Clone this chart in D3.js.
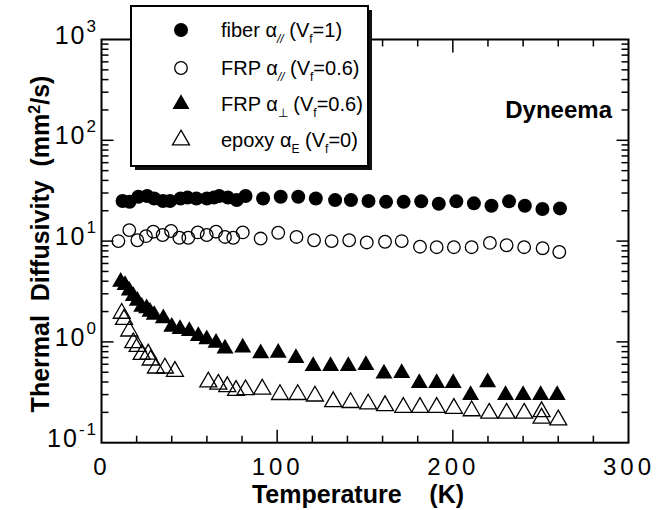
<!DOCTYPE html>
<html><head><meta charset="utf-8">
<script src="https://cdn.jsdelivr.net/npm/d3@7"></script>
<style>
body{margin:0;background:#fff}
svg{display:block}
text{font-family:"Liberation Sans",Arial,Helvetica,sans-serif;fill:#000}
</style>
</head><body>
<svg id="c" width="667" height="510"></svg>
<script>
// ---------- data ----------
const fiberT = [12,16,21,26,30,35,39,45,49,54,60,64,67,72,77,82,92,102,112,122,133,142,152,162,172,182,192,202,212,222,232,241,251,261];
const fiberV = [25,24.5,27.5,28,26.5,25,25,26.5,27,26.5,26.5,27,28,27,25.5,28,26.5,27.5,27.5,26.5,25.5,25.5,25,24.5,24.5,24.8,23.5,24.8,23.7,22.4,24.8,22.4,20.8,21.1];

const frpParT = [9.6,15.8,20.4,25.3,29.5,34.8,39.6,44.3,49.4,54.8,59.9,65.2,70.3,75,80.4,90.6,100.6,111,121,131,141,151,161.4,170.9,181.3,190.8,200.6,210.7,221.1,230.6,240.6,251.1,260.6];
const frpParV = [10.0,12.85,10.2,11.2,12.4,11.5,12.6,10.8,10.8,12.2,11.5,12.4,11.0,10.8,12.2,10.6,12.1,11.0,10.2,10.0,10.2,9.7,9.85,10.0,8.8,8.7,8.7,8.7,9.6,9.1,8.7,8.5,7.8];

const frpPerpT = [10.9,13.4,15.8,18.1,20.4,22.9,25.7,27.6,30,35.2,40,44.7,50,55.1,59.9,65.2,70.3,80.4,90.6,100.6,110.7,120.5,130.4,140.5,150.5,160.8,170.9,180.9,190.8,200.2,210.1,219.8,230,240,250,259.4];
const frpPerpV = [3.95,3.66,3.22,2.85,2.56,2.23,2.15,1.99,1.85,1.71,1.41,1.34,1.28,1.14,1.06,0.98,0.86,0.88,0.77,0.78,0.69,0.575,0.575,0.575,0.59,0.485,0.49,0.39,0.39,0.39,0.297,0.397,0.297,0.297,0.297,0.297];

const epoxyT = [11.5,12.8,15.8,18.1,20.6,22.9,26.6,28,31,36.1,41.8,60.8,66.5,71.6,76.6,82,91.5,101.6,111.7,121.5,131.9,141.8,151.8,161.4,171.8,181.3,190.8,200.6,210.7,220.7,230.6,240.6,250.5,250.5,260];
const epoxyV = [1.92,1.67,1.28,0.98,0.90,0.75,0.755,0.66,0.55,0.55,0.51,0.40,0.38,0.36,0.33,0.335,0.34,0.30,0.30,0.29,0.255,0.25,0.242,0.233,0.224,0.224,0.224,0.219,0.207,0.196,0.196,0.196,0.203,0.175,0.168];

const xTickLabels = [0,100,200,300];
const yTickExps = [-1,0,1,2,3];

// ---------- layout ----------
const svg = d3.select("#c");
const L = 101.5, R = 628.5, T = 39.5, B = 442.7;
const x = d3.scaleLinear().domain([0,300]).range([L,R]);
const y = d3.scaleLog().domain([0.1,1000]).range([B,T]);

// frame
svg.append("rect").attr("x",L).attr("y",T).attr("width",R-L).attr("height",B-T)
  .attr("fill","none").attr("stroke","#000").attr("stroke-width",2);

// x ticks (inward, bottom & top)
const xMinor = d3.range(20,300,20);
const tg = svg.append("g").attr("stroke","#000").attr("stroke-width",1.5);
xMinor.forEach(v=>{
  const len = (v%100===0)?13:7;
  tg.append("line").attr("x1",x(v)).attr("x2",x(v)).attr("y1",B).attr("y2",B-len);
  tg.append("line").attr("x1",x(v)).attr("x2",x(v)).attr("y1",T).attr("y2",T+len);
});
// y ticks (inward, left & right)
yTickExps.forEach(e=>{
  for(let m=1;m<10;m++){
    const v = m*Math.pow(10,e);
    if(v>1000) break;
    if(m===1 && (e===-1||e===3)) continue;
    const len = m===1?12:7;
    tg.append("line").attr("x1",L).attr("x2",L+len).attr("y1",y(v)).attr("y2",y(v));
    tg.append("line").attr("x1",R).attr("x2",R-len).attr("y1",y(v)).attr("y2",y(v));
  }
});

// tick labels
const xl = d3.axisBottom(x).tickValues(xTickLabels).tickSize(0).tickFormat(d3.format("d"));
const xg = svg.append("g").attr("transform",`translate(0,${B})`).call(xl);
xg.select(".domain").remove();
xg.selectAll("text").attr("dy",null).attr("y",32)
  .style("font-size","24px").style("letter-spacing","4px").style("font-family","Liberation Sans, Arial, sans-serif").attr("fill","#000");

const yg = svg.append("g");
yTickExps.forEach(e=>{
  const t = yg.append("text").attr("x",98).attr("y",y(Math.pow(10,e))+4)
    .attr("text-anchor","end").style("font-size","25px").style("letter-spacing","2px");
  t.append("tspan").text("10");
  t.append("tspan").attr("dy",-12).style("font-size","17px").text(String(e));
});

// axis titles
svg.append("text").attr("x",358).attr("y",503).attr("text-anchor","middle")
  .style("font-size","25px").style("font-weight","bold").attr("xml:space","preserve")
  .text("Temperature    (K)");
const yt = svg.append("text").attr("transform","translate(49,244) rotate(-90)")
  .attr("text-anchor","middle").style("font-size","25px").style("font-weight","bold")
  .attr("xml:space","preserve");
yt.append("tspan").text("Thermal  Diffusivity  (mm");
yt.append("tspan").attr("dy",-9).style("font-size","16px").text("2");
yt.append("tspan").attr("dy",9).text("/s)");

svg.append("text").attr("x",612).attr("y",118).attr("text-anchor","end")
  .style("font-size","24px").style("font-weight","bold").text("Dyneema");

// ---------- markers ----------
const tri = d3.symbol().type(d3.symbolTriangle).size(125);
const dg = svg.append("g");
function circles(T_,V_,filled){
  dg.append("g").selectAll("circle").data(T_.map((t,i)=>[t,V_[i]])).join("circle")
    .attr("cx",d=>x(d[0])).attr("cy",d=>y(d[1])).attr("r",filled?7:6.3)
    .attr("fill",filled?"#000":"none").attr("stroke","#000").attr("stroke-width",filled?0:1.3);
}
function tris(T_,V_,filled){
  dg.append("g").selectAll("path").data(T_.map((t,i)=>[t,V_[i]])).join("path")
    .attr("d",tri).attr("transform",d=>`translate(${x(d[0])},${y(d[1])})`)
    .attr("fill",filled?"#000":"none").attr("stroke","#000").attr("stroke-width",filled?0:1.3);
}
circles(frpParT,frpParV,false);
circles(fiberT,fiberV,true);
tris(epoxyT,epoxyV,false);
tris(frpPerpT,frpPerpV,true);

// ---------- legend ----------
const lg = svg.append("g");
lg.append("rect").attr("x",135).attr("y",10).attr("width",237).attr("height",160).attr("fill","#111");
lg.append("rect").attr("x",131).attr("y",6).attr("width",237).attr("height",160)
  .attr("fill","#fff").attr("stroke","#000").attr("stroke-width",2);
const rows = [30,68,104,140];
const legendSub = ["//","//","\u22a5","E"];
const legendHead = ["fiber ","FRP ","FRP ","epoxy "];
const legendVf = ["=1)","=0.6)","=0.6)","=0)"];
rows.forEach((ry,i)=>{
  if(i<2){
    lg.append("circle").attr("cx",181).attr("cy",ry).attr("r",i===0?7:6.3)
      .attr("fill",i===0?"#000":"none").attr("stroke","#000").attr("stroke-width",i===0?0:1.3);
  } else {
    lg.append("path").attr("d",tri).attr("transform",`translate(181,${ry})`)
      .attr("fill",i===2?"#000":"none").attr("stroke","#000").attr("stroke-width",i===2?0:1.3);
  }
  const t = lg.append("text").attr("x",221).attr("y",ry+7).style("font-size","20px").attr("xml:space","preserve");
  t.append("tspan").text(legendHead[i]+"\u03b1");
  t.append("tspan").attr("dy",6).style("font-size","12px").style("font-style",i<2?"italic":"normal").text(legendSub[i]);
  t.append("tspan").attr("dy",-6).text(" (V");
  t.append("tspan").attr("dy",6).style("font-size","12px").text("f");
  t.append("tspan").attr("dy",-6).text(legendVf[i]);
});
</script>
</body></html>
